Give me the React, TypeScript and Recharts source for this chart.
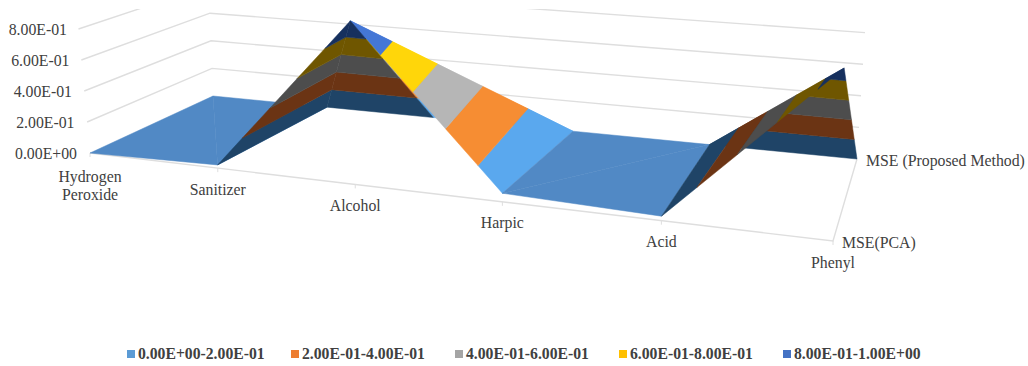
import React from "react";
import { ScatterChart, Scatter, XAxis, YAxis, Legend } from "recharts";

const categories = ["Hydrogen Peroxide", "Sanitizer", "Alcohol", "Harpic", "Acid", "Phenyl"];
const seriesNames = ["MSE(PCA)", "MSE (Proposed Method)"];
const msePca = [0, 0.02, 0.985, 0.05, 0.025, 0.93];
const mseProposed = [0, 0, 0, 0, 0, 0];
const valueTicks = [0, 0.2, 0.4, 0.6, 0.8];
const bandEdges = [0, 0.2, 0.4, 0.6, 0.8, 1];
const bandLabels = [
  "0.00E+00-2.00E-01",
  "2.00E-01-4.00E-01",
  "4.00E-01-6.00E-01",
  "6.00E-01-8.00E-01",
  "8.00E-01-1.00E+00",
];

const legendColors = ["#5B9BD5", "#ED7D31", "#A5A5A5", "#FFC000", "#4472C4"];
const litColors = ["#5aa8ee", "#f68d33", "#b6b6b6", "#ffd60a", "#4477d6"];
const darkColors = ["#1f4467", "#6b3414", "#4d4d4d", "#6f5600", "#16305e"];
const flatColors = ["#5189c5", "#5189c5", "#5189c5", "#5189c5", "#5189c5"];

// shading of each strip of the surface, and the order the strips are painted in
const stripColors = [flatColors, darkColors, litColors, flatColors, darkColors];
const stripOrder = [0, 2, 1, 3, 4];

const WIDTH = 1028;
const HEIGHT = 366;
const AXIS_WIDTH = 50;
const PLOT_TOP = 9;
const FONT = '"Liberation Serif", serif';
const TEXT_COLOR = "#404040";
const GRID_COLOR = "#dedede";

// the value axis is the front left edge: zero sits at 153px, one unit spans 155px
const ZERO_Y = 153;
const UNIT_PX = 155;
const toAxisY = (px: number) => (ZERO_Y - px) / UNIT_PX;

type Pt = { x: number; y: number; v: number; text?: string[] };

const lerp = (a: number, b: number, t: number) => a + (b - a) * t;

// how far along each floor row the categories sit, foreshortened towards the left
const frontStops = [0, 0.172, 0.357, 0.555, 0.769, 1];
const backStops = [0, 0.177, 0.342, 0.559, 0.771, 1];

function project(u: number, row: number, v: number): Pt {
  const s = row === 0 ? frontStops[u] : backStops[u];
  const floorX = row === 0 ? lerp(90, 833, s) : lerp(213, 857, s);
  const floorY = row === 0 ? lerp(153, 241, s) : lerp(96, 159, s);
  const scale = row === 0 ? 155 + 31 * s : 138 + 20 * s;
  const lean = row === 0 ? -14.4 + 26.4 * s : -5 + 15 * s;
  return { x: floorX + lean * v, y: toAxisY(floorY - scale * v), v };
}

// keep the part of a triangle whose values lie between lo and hi
function clipBand(poly: Pt[], lo: number, hi: number): Pt[] {
  const cut = (pts: Pt[], limit: number, keep: (v: number) => boolean) => {
    const out: Pt[] = [];
    pts.forEach((p, i) => {
      const n = pts[(i + 1) % pts.length];
      if (keep(p.v)) out.push(p);
      if (keep(p.v) !== keep(n.v)) {
        const t = (limit - p.v) / (n.v - p.v);
        out.push({ x: lerp(p.x, n.x, t), y: lerp(p.y, n.y, t), v: limit });
      }
    });
    return out;
  };
  const upper = cut(poly, lo, (v) => v >= lo);
  return upper.length ? cut(upper, hi, (v) => v <= hi) : [];
}

function buildSurface() {
  const rows = [msePca, mseProposed];
  const polys: { points: Pt[]; color: string }[] = [];
  stripOrder.forEach((i) => {
    const a = project(i, 0, rows[0][i]);
    const b = project(i + 1, 0, rows[0][i + 1]);
    const c = project(i + 1, 1, rows[1][i + 1]);
    const d = project(i, 1, rows[1][i]);
    // each cell folds along the diagonal through its highest corner,
    // the half nearest the viewer goes on last
    const top = Math.max(a.v, b.v, c.v, d.v);
    const tris =
      a.v === top || c.v === top
        ? [[a, c, d], [a, b, c]]
        : [[b, c, d], [b, d, a]];
    tris.forEach((tri) => {
      stripColors[i].forEach((color, band) => {
        const points = clipBand(tri, bandEdges[band], bandEdges[band + 1]);
        if (points.length > 2) polys.push({ points: [...points, points[0]], color });
      });
    });
  });
  return polys;
}

const last = categories.length - 1;
const wallLines = valueTicks
  .filter((t) => t > 0)
  .map((t) => [project(0, 0, t), project(0, 1, t), project(last, 1, t)]);
const floorLines = [
  [project(0, 0, 0), project(last, 0, 0), project(last, 1, 0)],
];

const categoryLabels: Pt[] = categories.map((name, i) => ({
  ...project(i, 0, 0),
  text: i === 0 ? name.split(" ") : [name],
}));
const seriesLabels: Pt[] = seriesNames.map((name, j) => ({
  ...project(last, j, 0),
  text: [name],
}));

const noDot = () => <g />;

const CategoryText = ({ cx, cy, payload }: any) => (
  <g>
    <line x1={cx} y1={cy} x2={cx} y2={cy + 4} stroke={GRID_COLOR} />
    <text x={cx} y={cy + (payload.text.length > 1 ? 23 : 21)} textAnchor="middle" fontFamily={FONT} fontSize={15.8} fill={TEXT_COLOR}>
      {payload.text.map((line: string, i: number) => (
        <tspan key={line} x={cx} dy={i === 0 ? 0 : 18} dominantBaseline="central">
          {line}
        </tspan>
      ))}
    </text>
  </g>
);

const SeriesText = ({ cx, cy, payload }: any) => (
  <text x={cx + 9} y={cy + 1} dominantBaseline="central" fontFamily={FONT} fontSize={15.8} fill={TEXT_COLOR}>
    {payload.text[0]}
  </text>
);

// E-notation the way the spreadsheet prints it: 2.00E-01
function formatValue(v: number) {
  const [m, e] = v.toExponential(2).split("e");
  const exp = Number(e);
  return `${m}E${exp < 0 ? "-" : "+"}${String(Math.abs(exp)).padStart(2, "0")}`;
}

// labels step inwards with height, following the slant of the wall
const ValueTick = ({ x, y, payload }: any) => (
  <text
    x={x + 35 - payload.value * 12.5}
    y={y}
    textAnchor="end"
    dominantBaseline="central"
    fontFamily={FONT}
    fontSize={15.8}
    fill={TEXT_COLOR}
  >
    {formatValue(payload.value)}
  </text>
);

const BandLegend = () => (
  <div style={{ display: "flex", paddingLeft: 127, fontFamily: FONT, fontWeight: 700, fontSize: 15.7, color: TEXT_COLOR }}>
    {bandLabels.map((label, i) => (
      <div key={label} style={{ width: 164, display: "flex", alignItems: "center", whiteSpace: "nowrap" }}>
        <span style={{ width: 8, height: 8, marginRight: 3, background: legendColors[i] }} />
        {label}
      </div>
    ))}
  </div>
);

export default function App() {
  const surface = buildSurface();
  return (
    <div style={{ position: "absolute", left: 0, top: 0 }}>
      <ScatterChart
        width={WIDTH}
        height={HEIGHT}
        margin={{ top: PLOT_TOP, right: 0, bottom: 0, left: 0 }}
      >
        <XAxis type="number" dataKey="x" hide domain={[AXIS_WIDTH, WIDTH]} allowDataOverflow />
        <YAxis
          type="number"
          dataKey="y"
          width={AXIS_WIDTH}
          domain={[toAxisY(HEIGHT), toAxisY(PLOT_TOP)]}
          ticks={valueTicks}
          interval={0}
          axisLine={false}
          tickLine={false}
          tick={ValueTick}
          allowDataOverflow
        />
        <Legend
          verticalAlign="middle"
          layout="horizontal"
          content={BandLegend}
          wrapperStyle={{ top: 345, left: 0, width: WIDTH }}
        />
        {[...wallLines, ...floorLines].map((points, i) => (
          <Scatter
            key={`grid-${i}`}
            data={points}
            shape={noDot}
            line={{ stroke: GRID_COLOR, strokeWidth: 1.4 }}
            lineType="joint"
            isAnimationActive={false}
          />
        ))}
        <Scatter data={categoryLabels} shape={CategoryText} isAnimationActive={false} />
        {surface.map((poly, i) => (
          <Scatter
            key={`band-${i}`}
            data={poly.points}
            shape={noDot}
            line={{ stroke: poly.color, strokeWidth: 0.5, fill: poly.color }}
            lineType="joint"
            isAnimationActive={false}
          />
        ))}
        <Scatter data={seriesLabels} shape={SeriesText} isAnimationActive={false} />
      </ScatterChart>
    </div>
  );
}
